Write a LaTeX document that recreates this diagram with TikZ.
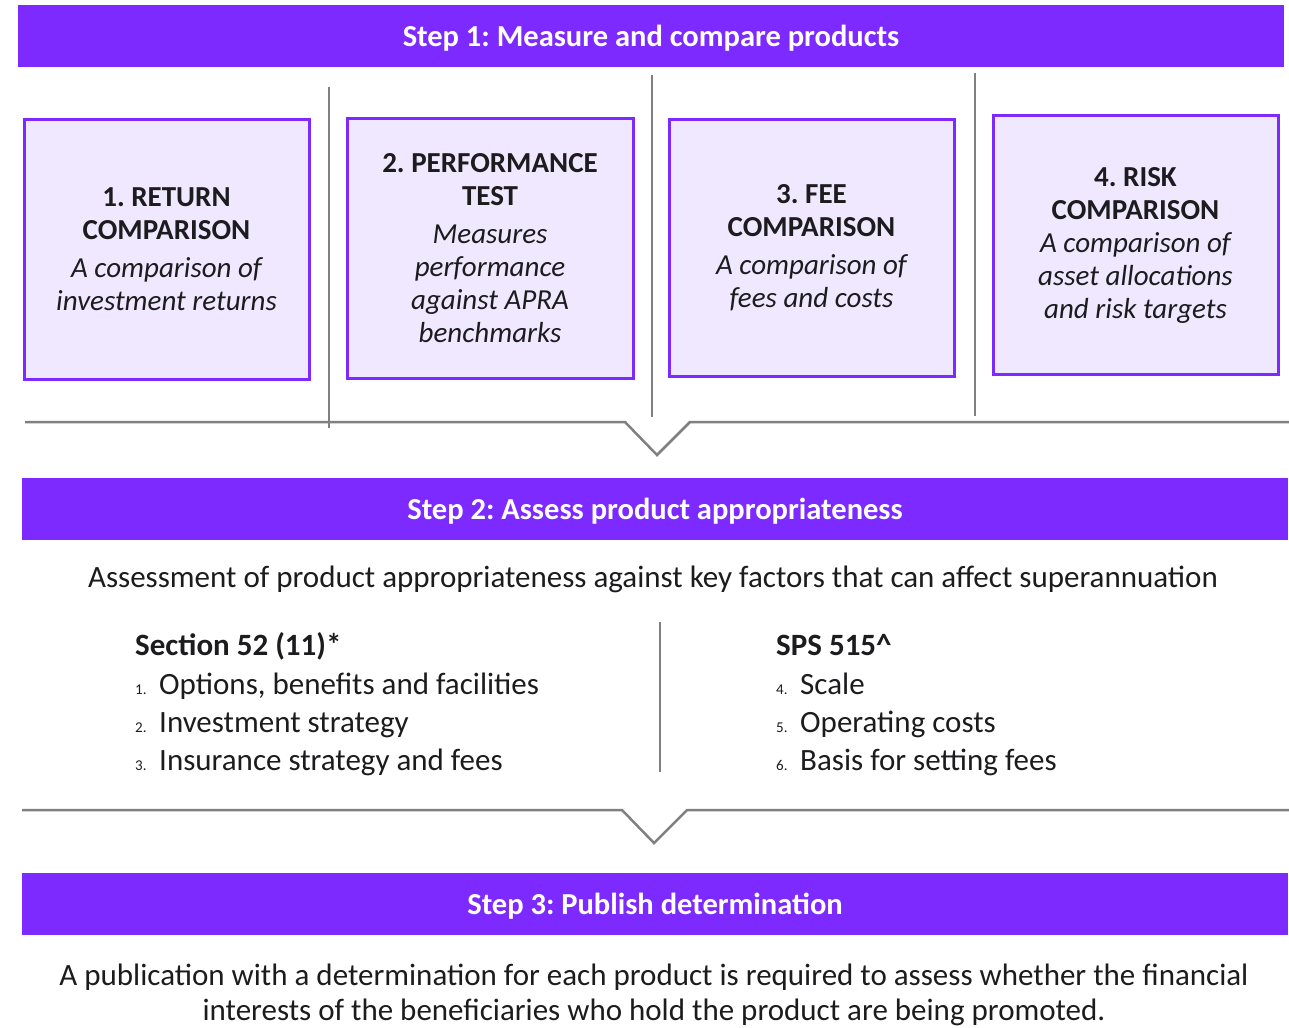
\documentclass[tikz,border=0pt]{standalone}
\usepackage{fontspec}
\setmainfont{Carlito}
\usepackage{xcolor}
\usetikzlibrary{positioning}
\definecolor{StepPurple}{RGB}{124,42,255}
\definecolor{CardLilac}{RGB}{240,232,255}
\definecolor{RuleGray}{RGB}{128,128,128}
\definecolor{InkBlack}{RGB}{28,28,30}
\newcommand{\cardhd}[1]{{\fontsize{29}{34}\selectfont\upshape\bfseries #1}}
\newcommand{\itemno}[1]{\makebox[24pt][l]{\fontsize{15}{16}\selectfont #1}}
\frenchspacing

\begin{document}
\begin{tikzpicture}[x=1pt, y=-1pt,
            bar/.style={rectangle, fill=StepPurple, inner sep=0pt,
                        minimum width=1266pt, minimum height=62pt, text depth=0pt,
                        text=white, font=\fontsize{30.5}{34}\selectfont\bfseries},
            card/.style={rectangle, draw=StepPurple, line width=3pt, fill=CardLilac,
                         inner sep=0pt, align=center, text=InkBlack,
                         font=\fontsize{29}{33}\selectfont\itshape},
            body/.style={text=InkBlack, font=\fontsize{31}{37}\selectfont, inner sep=0pt},
            head/.style={body, font=\fontsize{31}{37}\selectfont\bfseries},
            rule/.style={draw=RuleGray, line width=2.5pt}
          ]
          \useasboundingbox (0,0) rectangle (1289,1027);

          \node[bar] (s1) at (651, 36) {Step 1: Measure and compare products};

          \node[card, minimum width=285pt, minimum height=259pt] (c1) at (166.5, 249.5)
                {\cardhd{1. RETURN}\\ \cardhd{COMPARISON}\\[5pt]
                 A comparison of\\ investment returns};
          \node[card, minimum width=286pt, minimum height=259pt] (c2) at (490, 248.5)
                {\cardhd{2. PERFORMANCE}\\ \cardhd{TEST}\\[5pt]
                 Measures\\ performance\\ against APRA\\ benchmarks};
          \node[card, minimum width=285pt, minimum height=256pt] (c3) at (811.5, 248)
                {\cardhd{3. FEE}\\ \cardhd{COMPARISON}\\[5pt]
                 A comparison of\\ fees and costs};
          \node[card, minimum width=285pt, minimum height=258pt] (c4) at (1135.5, 245)
                {\cardhd{4. RISK}\\ \cardhd{COMPARISON}\\
                 A comparison of\\ asset allocations\\ and risk targets};

          \draw[rule] (329,87) -- (329,428);
          \draw[rule] (652,75) -- (652,417);
          \draw[rule] (975,73) -- (975,416);
          \draw[rule] (25,422) -- (625,422) -- (657,455) -- (690,422) -- (1289,422);

          \node[bar] (s2) at (655, 509) {Step 2: Assess product appropriateness};
          \node[body, anchor=base] (assess) at (653, 587)
                {Assessment of product appropriateness against key factors that can affect superannuation};

          \node[head, anchor=base west] (sec52) at (135, 655) {Section 52 (11)*};
          \node[body, anchor=base west] (i1) at (135, 694) {\itemno{1.}Options, benefits and facilities};
          \node[body, anchor=base west] (i2) at (135, 732) {\itemno{2.}Investment strategy};
          \node[body, anchor=base west] (i3) at (135, 770) {\itemno{3.}Insurance strategy and fees};

          \draw[rule] (660,622) -- (660,772);

          \node[head, anchor=base west] (sps) at (776, 655) {SPS 515\^{}};
          \node[body, anchor=base west] (i4) at (776, 694) {\itemno{4.}Scale};
          \node[body, anchor=base west] (i5) at (776, 732) {\itemno{5.}Operating costs};
          \node[body, anchor=base west] (i6) at (776, 770) {\itemno{6.}Basis for setting fees};

          \draw[rule] (22,810) -- (622,810) -- (654,843) -- (687,810) -- (1289,810);

          \node[bar] (s3) at (655, 904) {Step 3: Publish determination};
          \node[body, anchor=base] (pub1) at (654, 985)
                {A publication with a determination for each product is required to assess whether the financial};
          \node[body, anchor=base] (pub2) at (654, 1020)
                {interests of the beneficiaries who hold the product are being promoted.};
        \end{tikzpicture}
\end{document}
